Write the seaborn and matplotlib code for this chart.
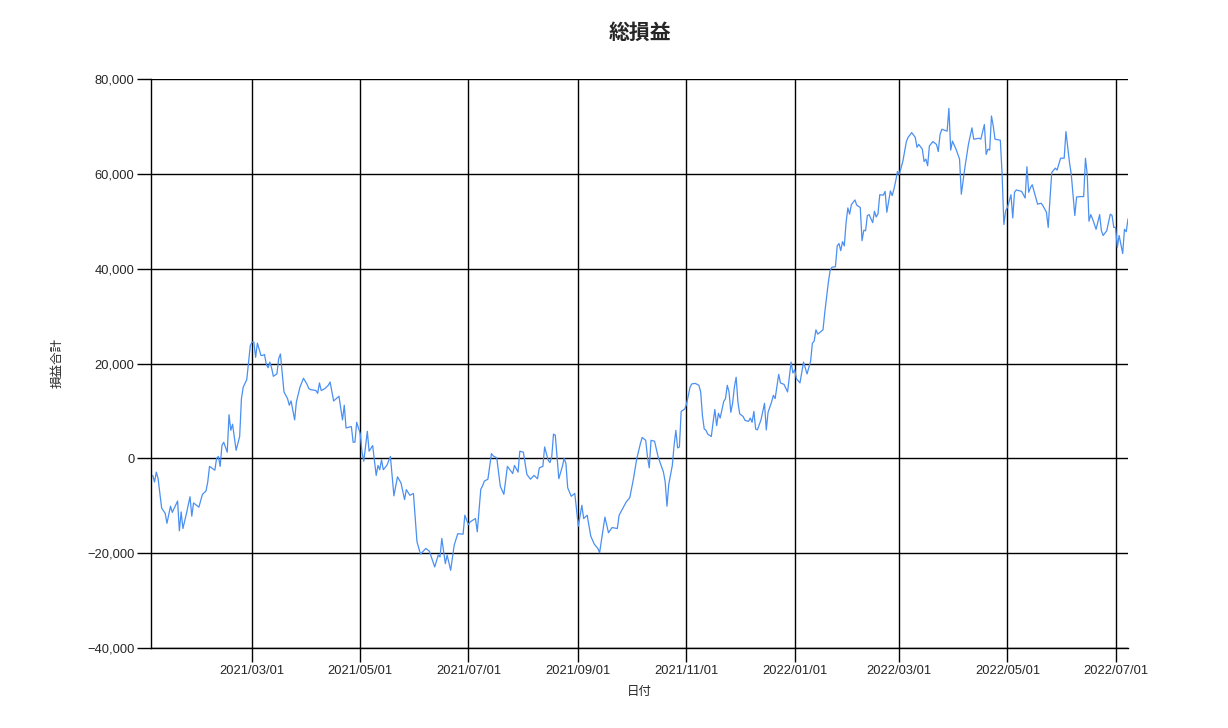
import numpy as np
import pandas as pd
import matplotlib
matplotlib.use("Agg")
import matplotlib.pyplot as plt
import matplotlib.dates as mdates
import matplotlib.ticker as mticker
import seaborn as sns

# day number counted from 2021-01-01 for each trading record
day = [
    3, 4, 5, 6, 8, 10, 11, 13, 14, 17, 18, 19, 20, 22, 24, 25, 26, 28, 29, 31,
    33, 34, 35, 38, 39, 40, 41, 42, 43, 45, 46, 47, 48, 50, 52, 53, 54, 56, 57, 58,
    59, 60, 61, 62, 64, 65, 66, 67, 68, 69, 70, 71, 73, 74, 75, 77, 79, 80, 81, 83,
    84, 86, 88, 90, 91, 92, 95, 96, 97, 98, 100, 102, 103, 105, 108, 110, 111, 112, 115, 116,
    117, 118, 120, 121, 122, 124, 125, 127, 129, 130, 131, 132, 133, 135, 137, 139, 141, 143, 145, 146,
    148, 150, 152, 154, 157, 159, 162, 164, 165, 166, 168, 169, 171, 173, 175, 178, 179, 181, 182, 185,
    186, 188, 189, 190, 192, 194, 195, 197, 199, 201, 203, 204, 206, 207, 209, 210, 212, 214, 216, 218,
    220, 221, 223, 224, 226, 227, 228, 229, 230, 232, 234, 235, 236, 237, 239, 241, 243, 245, 246, 248,
    250, 252, 254, 255, 258, 260, 262, 265, 266, 268, 270, 272, 274, 276, 278, 279, 281, 282, 283, 284,
    286, 288, 291, 292, 293, 294, 296, 297, 298, 299, 300, 301, 303, 304, 306, 307, 309, 311, 312, 313,
    314, 315, 316, 318, 319, 320, 321, 322, 323, 325, 326, 327, 328, 329, 330, 331, 332, 333, 334, 336,
    337, 339, 340, 341, 342, 343, 344, 346, 348, 349, 350, 352, 353, 354, 356, 357, 359, 361, 363, 364,
    365, 366, 368, 370, 372, 374, 375, 376, 377, 378, 381, 382, 384, 385, 386, 388, 389, 390, 391, 392,
    393, 394, 395, 396, 397, 399, 400, 402, 403, 404, 405, 406, 407, 409, 410, 411, 412, 413, 415, 416,
    417, 419, 420, 421, 422, 423, 424, 426, 428, 429, 431, 433, 434, 435, 437, 438, 439, 440, 441, 443,
    445, 446, 447, 448, 451, 452, 453, 454, 456, 458, 459, 461, 463, 465, 466, 469, 470, 472, 473, 474,
    475, 476, 477, 478, 481, 482, 483, 484, 485, 487, 488, 489, 490, 492, 493, 495, 496, 497, 498, 499,
    502, 504, 505, 507, 508, 509, 510, 512, 513, 515, 517, 518, 520, 521, 523, 524, 526, 528, 529, 530,
    531, 532, 533, 535, 537, 538, 539, 541, 543, 544, 545, 546, 547, 548, 550, 551, 552, 553,
]

# cumulative profit / loss (yen)
total = [
    -3600, -5000, -2900, -4300, -10500, -11600, -13700, -10100, -11400, -9000,
    -15300, -11300, -14800, -11600, -8100, -12200, -9400, -10000, -10300, -7600,
    -6900, -5000, -1700, -2500, 0, 400, -1700, 2700, 3400, 1300,
    9200, 5900, 7200, 1700, 4600, 12600, 15000, 16600, 20300, 23800,
    24500, 24500, 21300, 24300, 21700, 21700, 21900, 19900, 19100, 20300,
    19100, 17300, 17800, 21000, 22000, 14000, 12600, 11200, 12100, 8100,
    11900, 15000, 16900, 15600, 14700, 14500, 14300, 13700, 15900, 14300,
    14700, 15400, 16100, 12100, 13100, 8100, 11200, 6400, 6700, 3400,
    3400, 7600, 5200, 1300, -600, 5700, 1500, 2700, -3600, -1500,
    -2400, -300, -2400, -1500, 400, -7900, -3900, -5200, -8700, -6600,
    -7800, -7400, -17600, -20200, -19000, -19600, -22900, -20400, -20800, -16900,
    -22200, -20400, -23600, -18300, -15900, -16000, -12000, -14000, -13400, -12700,
    -15500, -6500, -5800, -4800, -4400, 1000, 500, 100, -5900, -7600,
    -1700, -2200, -3200, -1500, -2900, 1500, 1300, -3400, -4400, -3600,
    -4300, -2000, -1700, 2400, -400, -900, 300, 5100, 4900, -4300,
    -1700, 0, -1100, -6200, -8000, -7400, -14300, -9900, -12700, -12000,
    -16400, -18100, -19000, -19900, -12400, -15700, -14600, -14800, -12000, -10600,
    -9200, -8300, -4500, 0, 3100, 4400, 3800, 300, -2000, 3800,
    3600, 300, -2900, -5000, -10100, -5500, -1500, 2700, 5900, 2200,
    2400, 9900, 10400, 11400, 15000, 15700, 15800, 15400, 14000, 9000,
    6200, 5900, 5100, 4600, 7600, 10300, 6900, 9500, 8500, 12000,
    12600, 15400, 14000, 9700, 11600, 15000, 17100, 11900, 9400, 8800,
    8000, 7800, 8500, 7600, 9900, 6200, 6000, 8100, 11600, 6000,
    9700, 11900, 13300, 12600, 17700, 15900, 15600, 14000, 20300, 18000,
    18700, 16800, 15900, 20300, 17800, 20500, 24300, 24700, 27100, 26200,
    27100, 30800, 37100, 39600, 40300, 40400, 44800, 45300, 43800, 45700,
    44800, 49700, 52800, 51500, 53500, 54500, 53400, 52900, 45900, 48100,
    48000, 51200, 51400, 49700, 52100, 50900, 51600, 55600, 55500, 56300,
    51900, 56400, 55400, 56800, 58500, 60500, 59900, 62600, 66800, 67700,
    68700, 67700, 65600, 66200, 65200, 62600, 63100, 61700, 65900, 66800,
    66200, 64700, 68300, 69400, 69000, 73800, 65000, 66900, 65200, 63100,
    55700, 61300, 66200, 69700, 67300, 67500, 67300, 70400, 64100, 65200,
    65000, 72200, 70100, 67300, 67100, 59900, 49300, 52200, 52900, 55600,
    50700, 56100, 56600, 56400, 56300, 54900, 61500, 56100, 57100, 57700,
    53600, 53800, 53300, 51900, 48700, 54700, 60300, 61200, 60800, 63300,
    63300, 68900, 62400, 59900, 51200, 55100, 55200, 55200, 63300, 59900,
    50000, 51400, 50500, 48300, 51400, 48000, 47000, 48000, 51500, 51200,
    48700, 48700, 44500, 47000, 43200, 48300, 47800, 50500,
]

dates = pd.Timestamp("2021-01-01") + pd.to_timedelta(day, unit="D")
df = pd.DataFrame({"日付": dates, "損益合計": total})

sns.set_style("white")
plt.rcParams["font.family"] = ["Liberation Sans", "Noto Sans CJK JP", "DejaVu Sans"]

fig = plt.figure(figsize=(12.28, 7.28), dpi=100)
ax = fig.add_axes([151 / 1228, 80 / 728, 977 / 1228, 569 / 728])

sns.lineplot(data=df, x="日付", y="損益合計", estimator=None, sort=False,
             color="#4a8ff2", linewidth=0.9, ax=ax)

ax.set_ylim(-40000, 80000)
ax.set_xlim(pd.Timestamp("2021-01-03"), df["日付"].iloc[-1])
ax.yaxis.set_major_locator(mticker.MultipleLocator(20000))
ax.yaxis.set_major_formatter(mticker.StrMethodFormatter("{x:,.0f}"))
ax.xaxis.set_major_locator(mdates.MonthLocator(bymonth=[1, 3, 5, 7, 9, 11]))
ax.xaxis.set_major_formatter(mdates.DateFormatter("%Y/%m/%d"))

ax.grid(True, color="black", linewidth=1)
ax.tick_params(axis="both", direction="out", length=10, width=1, color="black",
               labelsize=9.3, pad=2, bottom=True, left=True)
for side in ["top", "right"]:
    ax.spines[side].set_visible(False)
for side in ["left", "bottom"]:
    ax.spines[side].set_color("black")
    ax.spines[side].set_linewidth(1)

ax.set_title("総損益", fontsize=15, fontweight="bold", pad=29)
ax.set_xlabel("日付", fontsize=9, labelpad=7)
ax.set_ylabel("損益合計", fontsize=9, labelpad=17)

plt.savefig("out.png", dpi=100)
